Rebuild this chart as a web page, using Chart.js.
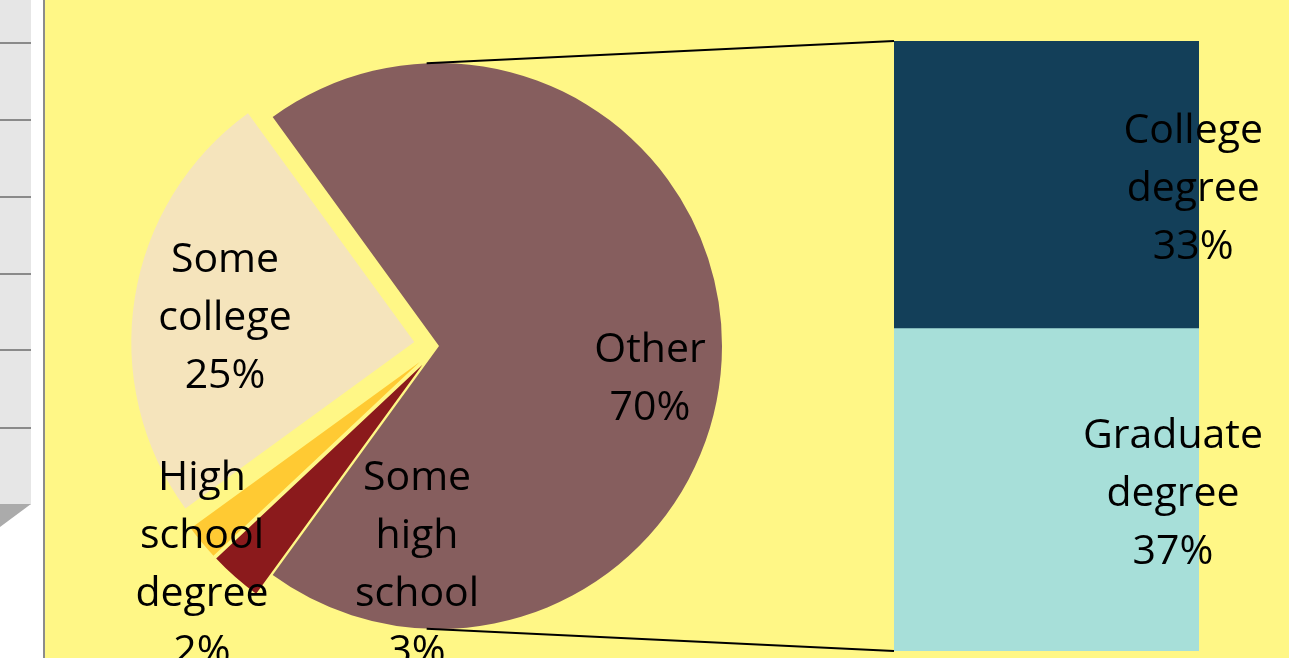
<!DOCTYPE html>
<html>
<head>
<meta charset="utf-8">
<script src="https://cdn.jsdelivr.net/npm/chart.js@4.4.1/dist/chart.umd.min.js"></script>
<style>
html, body { margin:0; padding:0; width:1289px; height:658px; overflow:hidden; background:#ffffff; }
#panel { position:absolute; left:0; top:0; width:31px; height:505px; background:#e6e6e6; }
.hl { position:absolute; left:0; width:31px; height:2px; background:#8a8a8a; }
#tri { position:absolute; left:0; top:504px; width:31px; height:23px; background:#ababab; clip-path:polygon(0 0,100% 0,0 100%); }
#vline { position:absolute; left:43px; top:0; width:2px; height:658px; background:#8c8c8c; }
#plot { position:absolute; left:45px; top:0; width:1244px; height:658px; background:#FFF786; }
canvas { position:absolute; left:0; top:0; }
</style>
</head>
<body>
<div id="panel"></div>
<div class="hl" style="top:42px"></div>
<div class="hl" style="top:119px"></div>
<div class="hl" style="top:196px"></div>
<div class="hl" style="top:273px"></div>
<div class="hl" style="top:349px"></div>
<div class="hl" style="top:427px"></div>
<div id="tri"></div>
<div id="vline"></div>
<div id="plot"></div>
<canvas id="pie" width="1289" height="658"></canvas>
<canvas id="bar" width="1289" height="658"></canvas>
<script>
// ---- data ----
const pieCategories = ["Other", "Some high school", "High school degree", "Some college"];
const pieValues = [70, 3, 2, 25];
const barCategories = ["Graduate degree", "College degree"];
const barValues = [37, 33];

// ---- styles / layout (kept apart from data) ----
const FONT = '41px "Open Sans"';
const LINE_H = 58;
const CAP_HALF = 0.714 * 41 / 2;
const pieColors = ['#865E5E', '#8B1A1C', '#FFCA33', '#F5E4BC'];
const barColors = ['#A7DFD9', '#133F59'];
const EXPLODE = [0, 25, 25, 25];
// label placement per slice: [fraction of radius, angle shift in degrees from slice mid]
const PIE_LABEL_PLACE = [[0.753, 8.1], [0.767, -35.6], [1.133, -2.74], [0.764, -0.76]];

function drawBlock(ctx, lines, cx, cy) {
  const n = lines.length;
  lines.forEach((t, k) => {
    ctx.fillText(t, cx, cy + (k - (n - 1) / 2) * LINE_H + CAP_HALF);
  });
}

const explodePlugin = {
  id: 'explode',
  beforeDatasetDraw(chart, args) {
    const ctx = chart.ctx;
    args.meta.data.forEach((arc, i) => {
      const d = EXPLODE[i];
      const mid = (arc.startAngle + arc.endAngle) / 2;
      ctx.save();
      ctx.translate(Math.cos(mid) * d, Math.sin(mid) * d);
      arc.draw(ctx);
      ctx.restore();
    });
    return false;
  }
};

const pieLabelPlugin = {
  id: 'pieLabels',
  afterDatasetsDraw(chart) {
    const ctx = chart.ctx;
    const meta = chart.getDatasetMeta(0);
    const total = pieValues.reduce((a, b) => a + b, 0);
    ctx.save();
    ctx.font = FONT;
    ctx.fillStyle = '#000';
    ctx.textAlign = 'center';
    ctx.textBaseline = 'alphabetic';
    meta.data.forEach((arc, i) => {
      const mid = (arc.startAngle + arc.endAngle) / 2 + PIE_LABEL_PLACE[i][1] * Math.PI / 180;
      const r = arc.outerRadius * PIE_LABEL_PLACE[i][0];
      const cx = arc.x + Math.cos(mid) * r;
      const cy = arc.y + Math.sin(mid) * r;
      const pct = Math.round(pieValues[i] / total * 100) + '%';
      drawBlock(ctx, pieCategories[i].split(' ').concat([pct]), cx, cy);
    });
    ctx.restore();
  }
};

const pieChart = new Chart(document.getElementById('pie'), {
  type: 'pie',
  data: {
    labels: pieCategories,
    datasets: [{
      data: pieValues,
      backgroundColor: pieColors,
      borderWidth: 0
    }]
  },
  options: {
    responsive: false,
    devicePixelRatio: 1,
    animation: false,
    events: [],
    radius: 283,
    rotation: -36,
    layout: { padding: { left: 0, right: 411, top: 34, bottom: 0 } },
    plugins: { legend: { display: false }, tooltip: { enabled: false } }
  },
  plugins: [explodePlugin, pieLabelPlugin]
});

const connectorPlugin = {
  id: 'connectors',
  afterDatasetsDraw(chart) {
    const ctx = chart.ctx;
    const arc = pieChart.getDatasetMeta(0).data[0];
    const top = chart.getDatasetMeta(1).data[0];
    const bottom = chart.getDatasetMeta(0).data[0];
    const a1 = -Math.PI / 2 - 2.5 * Math.PI / 180;
    const a2 = Math.PI / 2 + 2.5 * Math.PI / 180;
    ctx.save();
    ctx.strokeStyle = '#000';
    ctx.lineWidth = 2;
    ctx.beginPath();
    ctx.moveTo(arc.x + Math.cos(a1) * arc.outerRadius, arc.y + Math.sin(a1) * arc.outerRadius);
    ctx.lineTo(top.x - top.width / 2, top.y);
    ctx.moveTo(arc.x + Math.cos(a2) * arc.outerRadius, arc.y + Math.sin(a2) * arc.outerRadius);
    ctx.lineTo(bottom.x - bottom.width / 2, bottom.base);
    ctx.stroke();
    ctx.restore();
  }
};

const barLabelPlugin = {
  id: 'barLabels',
  afterDatasetsDraw(chart) {
    const ctx = chart.ctx;
    const total = pieValues.reduce((a, b) => a + b, 0);
    ctx.save();
    ctx.font = FONT;
    ctx.fillStyle = '#000';
    ctx.textAlign = 'center';
    ctx.textBaseline = 'alphabetic';
    barCategories.forEach((name, i) => {
      const el = chart.getDatasetMeta(i).data[0];
      const lines = name.split(' ').concat([Math.round(barValues[i] / total * 100) + '%']);
      const w = Math.max(...lines.map(t => ctx.measureText(t).width));
      const right = el.x + el.width / 2 + 64;
      const cx = right - w / 2;
      const cy = (el.y + el.base) / 2 + 2;
      drawBlock(ctx, lines, cx, cy);
    });
    ctx.restore();
  }
};

const barChart = new Chart(document.getElementById('bar'), {
  type: 'bar',
  data: {
    labels: [''],
    datasets: barCategories.map((name, i) => ({
      label: name,
      data: [barValues[i]],
      backgroundColor: barColors[i],
      borderWidth: 0,
      barPercentage: 1,
      categoryPercentage: 1
    }))
  },
  options: {
    responsive: false,
    devicePixelRatio: 1,
    animation: false,
    events: [],
    layout: { padding: { left: 894, right: 90, top: 41, bottom: 7 } },
    scales: {
      x: { display: false, stacked: true },
      y: { display: false, stacked: true, min: 0, max: 70 }
    },
    plugins: { legend: { display: false }, tooltip: { enabled: false } }
  },
  plugins: [connectorPlugin, barLabelPlugin]
});
</script>
</body>
</html>
